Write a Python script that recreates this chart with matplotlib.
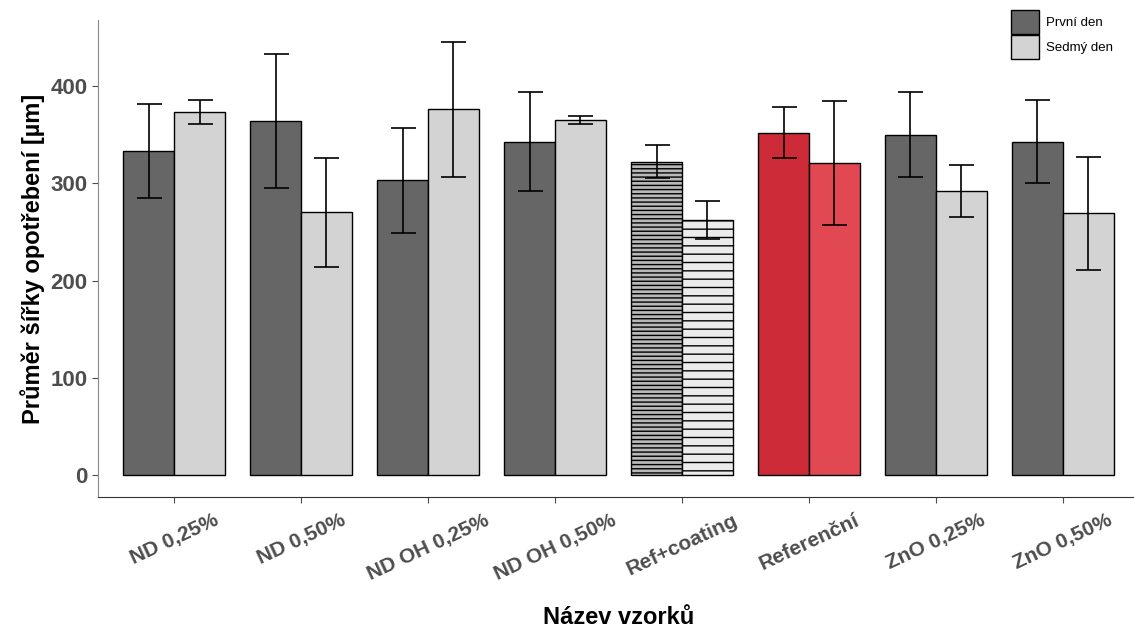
import matplotlib.pyplot as plt
import numpy as np

plt.rcParams['font.family'] = ['Liberation Sans', 'DejaVu Sans']
plt.rcParams['hatch.color'] = '#9a9a9a'

vzorky = ['ND 0,25%', 'ND 0,50%', 'ND OH 0,25%', 'ND OH 0,50%',
          'Ref+coating', 'Referenční', 'ZnO 0,25%', 'ZnO 0,50%']
prvni = [333, 364, 303, 343, 322, 352, 350, 343]
prvni_err = [48.5, 68.5, 54, 50.5, 17, 26, 44, 43]
sedmy = [373, 270, 376, 365, 262, 321, 292, 269]
sedmy_err = [12.5, 56.5, 69.5, 4, 19.5, 64, 27, 58]

c_prvni = ['#666666'] * 8
c_sedmy = ['#d3d3d3'] * 8
c_prvni[4], c_sedmy[4] = '#b8b8b8', '#ebebeb'
c_prvni[5], c_sedmy[5] = '#cc2b37', '#e24852'

fig = plt.figure(figsize=(11.34, 6.28), dpi=100)
ax = fig.add_axes([0.0864, 0.2086, 0.918, 0.7596])

x = np.arange(1, len(vzorky) + 1)
w = 0.4
b1 = ax.bar(x - w / 2, prvni, w, color=c_prvni, edgecolor='black', linewidth=1, label='První den')
b2 = ax.bar(x + w / 2, sedmy, w, color=c_sedmy, edgecolor='black', linewidth=1, label='Sedmý den')
# textured bars for Ref+coating
b1[4].set_hatch('----')
b2[4].set_hatch('--')
ax.errorbar(x - w / 2, prvni, yerr=prvni_err, fmt='none', ecolor='black', elinewidth=1.2, capsize=9, capthick=1.2)
ax.errorbar(x + w / 2, sedmy, yerr=sedmy_err, fmt='none', ecolor='black', elinewidth=1.2, capsize=9, capthick=1.2)

ax.set_xlim(0.4, 8.6)
ax.set_ylim(-22.6, 468)
ax.set_yticks([0, 100, 200, 300, 400])
ax.set_xticks(x)
ax.set_xticklabels(vzorky, rotation=25, ha='center', fontsize=15, fontweight='bold', color='#4d4d4d')
for t in ax.get_yticklabels():
    t.set_fontsize(16)
    t.set_fontweight('bold')
    t.set_color('#4d4d4d')
ax.tick_params(axis='both', color='#4d4d4d', length=4)
ax.tick_params(axis='x', pad=6)

for s in ['top', 'right']:
    ax.spines[s].set_visible(False)
ax.spines['left'].set_color('#8a8a8a')
ax.spines['bottom'].set_color('#333333')

ax.set_ylabel('Průměr šířky opotřebení [µm]', fontsize=17, fontweight='bold', labelpad=4)
ax.set_xlabel('Název vzorků', fontsize=17, fontweight='bold', labelpad=16)

leg = ax.legend(handles=[b1[0], b2[0]], labels=['První den', 'Sedmý den'],
                loc='upper left', bbox_to_anchor=(0.866, 1.045), frameon=False,
                fontsize=9.5, handlelength=2.1, handleheight=2.4, labelspacing=0.05, handletextpad=0.5)
leg.legend_handles[0].set_facecolor('#666666')
leg.legend_handles[1].set_facecolor('#d3d3d3')

plt.savefig('out.png', dpi=100)
